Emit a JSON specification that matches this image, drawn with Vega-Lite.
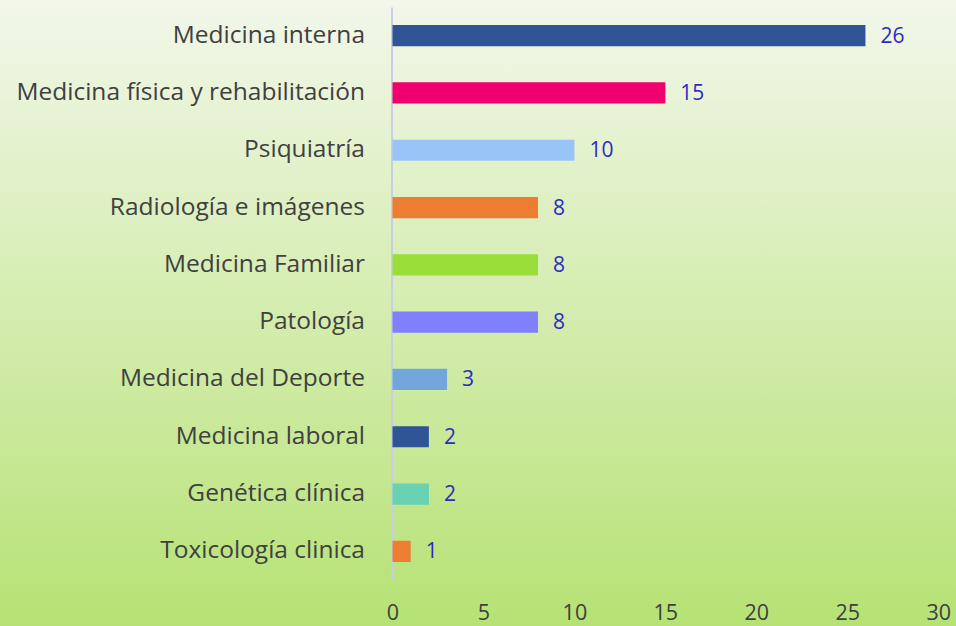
{
  "$schema": "https://vega.github.io/schema/vega-lite/v6.json",
  "width": 956,
  "height": 626,
  "autosize": {"type": "none"},
  "padding": 0,
  "config": {
    "view": {
      "stroke": null,
      "fill": {
        "gradient": "linear",
        "x1": 0, "y1": 0, "x2": 0, "y2": 1,
        "stops": [
          {"offset": 0, "color": "#f2f7ea"},
          {"offset": 1, "color": "#b6e274"}
        ]
      }
    },
    "font": "Open Sans"
  },
  "data": {
    "values": [
      {"especialidad": "Medicina interna", "n": 26},
      {"especialidad": "Medicina física y rehabilitación", "n": 15},
      {"especialidad": "Psiquiatría", "n": 10},
      {"especialidad": "Radiología e imágenes", "n": 8},
      {"especialidad": "Medicina Familiar", "n": 8},
      {"especialidad": "Patología", "n": 8},
      {"especialidad": "Medicina del Deporte", "n": 3},
      {"especialidad": "Medicina laboral", "n": 2},
      {"especialidad": "Genética clínica", "n": 2},
      {"especialidad": "Toxicología clinica", "n": 1}
    ]
  },
  "encoding": {
    "y": {
      "field": "especialidad",
      "type": "nominal",
      "sort": null,
      "scale": {"range": [7, 580], "paddingInner": 0.63, "paddingOuter": 0.315},
      "axis": {
        "title": null,
        "orient": "left",
        "offset": -391.5,
        "ticks": false,
        "grid": false,
        "domainColor": "#c9cdea",
        "domainWidth": 2,
        "labelFont": "Open Sans",
        "labelFontSize": 24.5,
        "labelColor": "#404040",
        "labelPadding": 27,
        "labelLimit": 400
      }
    },
    "x": {
      "field": "n",
      "type": "quantitative",
      "scale": {"domain": [0, 30], "range": [392.5, 938.2], "nice": false},
      "axis": {
        "title": null,
        "orient": "bottom",
        "offset": -26,
        "values": [0, 5, 10, 15, 20, 25, 30],
        "domain": false,
        "ticks": false,
        "grid": false,
        "labelFont": "Open Sans",
        "labelFontSize": 21.5,
        "labelColor": "#404040",
        "labelPadding": 2,
        "labelFlush": false
      }
    }
  },
  "layer": [
    {
      "mark": {"type": "bar"},
      "encoding": {
        "color": {
          "field": "especialidad",
          "type": "nominal",
          "legend": null,
          "scale": {
            "domain": ["Medicina interna", "Medicina física y rehabilitación", "Psiquiatría", "Radiología e imágenes", "Medicina Familiar", "Patología", "Medicina del Deporte", "Medicina laboral", "Genética clínica", "Toxicología clinica"],
            "range": ["#2f5597", "#f0006f", "#98c4f7", "#ed7d31", "#9ade3a", "#8080ff", "#73a7dc", "#2f5597", "#68d2b3", "#ed7d31"]
          }
        }
      }
    },
    {
      "mark": {"type": "text", "align": "left", "baseline": "middle", "dx": 15, "dy": 1, "fontSize": 21, "color": "#2c2cc4", "font": "Open Sans"},
      "encoding": {"text": {"field": "n", "type": "quantitative"}}
    }
  ]
}
